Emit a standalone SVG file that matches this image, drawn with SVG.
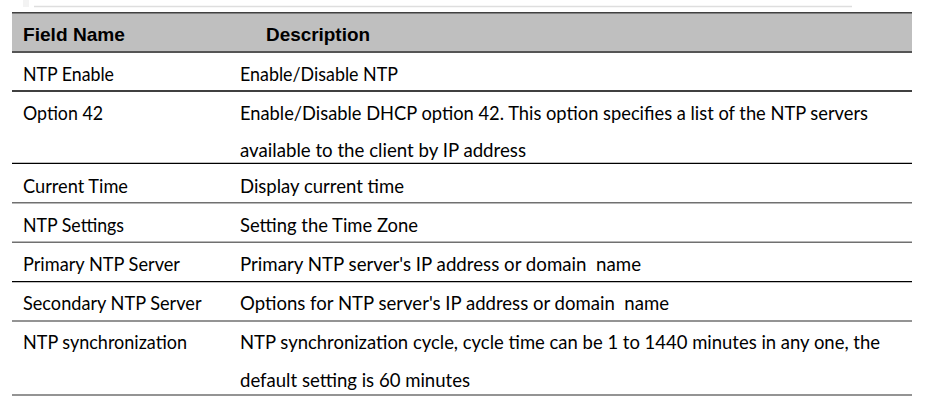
<svg xmlns="http://www.w3.org/2000/svg" width="928" height="406" viewBox="0 0 928 406">
<style>
.hd{font-family:"Liberation Sans",Arial,sans-serif;font-weight:bold;font-size:19px;fill:#000}
.tx{font-family:Lato,"Open Sans",sans-serif;font-size:18.6px;fill:#000}
.blk{stroke:#000;stroke-width:1.3}
.gry{stroke:#707070;stroke-width:1.6}
</style>
<rect width="928" height="406" fill="#fff"/>
<rect x="23" y="0" width="6" height="7" fill="#f3f3f3"/>
<line x1="34" y1="6.5" x2="852" y2="6.5" stroke="#dedede" stroke-width="1.5"/>
<g id="header">
<rect x="12" y="12.5" width="900" height="39.5" fill="#bfbfbf"/>
<line x1="12" y1="12.8" x2="912" y2="12.8" stroke="#404040" stroke-width="1.6"/>
<line x1="12" y1="52" x2="912" y2="52" stroke="#555" stroke-width="1.8"/>
<text class="hd" x="23" y="41" textLength="102" lengthAdjust="spacingAndGlyphs">Field Name</text>
<text class="hd" x="266" y="41" textLength="104" lengthAdjust="spacingAndGlyphs">Description</text>
</g>
<g id="rules">
<line class="blk" x1="12" y1="91" x2="912" y2="91"/>
<line class="blk" x1="12" y1="163.3" x2="912" y2="163.3"/>
<line class="gry" x1="12" y1="202.7" x2="912" y2="202.7"/>
<line class="gry" x1="12" y1="242.3" x2="912" y2="242.3"/>
<line class="blk" x1="12" y1="281.7" x2="912" y2="281.7"/>
<line class="gry" x1="12" y1="321" x2="912" y2="321"/>
<line class="gry" x1="12" y1="395" x2="912" y2="395"/>
</g>
<g id="row-ntp-enable">
<text class="tx" x="23" y="81" textLength="91" lengthAdjust="spacingAndGlyphs">NTP Enable</text>
<text class="tx" x="240" y="81" textLength="158" lengthAdjust="spacingAndGlyphs">Enable/Disable NTP</text>
</g>
<g id="row-option42">
<text class="tx" x="23" y="120" textLength="80" lengthAdjust="spacingAndGlyphs">Option 42</text>
<text class="tx" x="240" y="120" textLength="628" lengthAdjust="spacingAndGlyphs">Enable/Disable DHCP option 42. This option specifies a list of the NTP servers</text>
<text class="tx" x="240" y="156.7" textLength="286" lengthAdjust="spacingAndGlyphs">available to the client by IP address</text>
</g>
<g id="row-current-time">
<text class="tx" x="23" y="193.3" textLength="105" lengthAdjust="spacingAndGlyphs">Current Time</text>
<text class="tx" x="240" y="193.3" textLength="164" lengthAdjust="spacingAndGlyphs">Display current time</text>
</g>
<g id="row-ntp-settings">
<text class="tx" x="23" y="231.7" textLength="101" lengthAdjust="spacingAndGlyphs">NTP Settings</text>
<text class="tx" x="240" y="231.7" textLength="178" lengthAdjust="spacingAndGlyphs">Setting the Time Zone</text>
</g>
<g id="row-primary">
<text class="tx" x="23" y="270.5" textLength="157" lengthAdjust="spacingAndGlyphs">Primary NTP Server</text>
<text class="tx" x="240" y="270.5" textLength="401" lengthAdjust="spacingAndGlyphs" xml:space="preserve">Primary NTP server's IP address or domain  name</text>
</g>
<g id="row-secondary">
<text class="tx" x="23" y="310" textLength="178.5" lengthAdjust="spacingAndGlyphs">Secondary NTP Server</text>
<text class="tx" x="240" y="310" textLength="429" lengthAdjust="spacingAndGlyphs" xml:space="preserve">Options for NTP server's IP address or domain  name</text>
</g>
<g id="row-sync">
<text class="tx" x="23" y="349.3" textLength="164" lengthAdjust="spacingAndGlyphs">NTP synchronization</text>
<text class="tx" x="240" y="349.3" textLength="640" lengthAdjust="spacingAndGlyphs">NTP synchronization cycle, cycle time can be 1 to 1440 minutes in any one, the</text>
<text class="tx" x="240" y="387.3" textLength="230" lengthAdjust="spacingAndGlyphs">default setting is 60 minutes</text>
</g>
</svg>
